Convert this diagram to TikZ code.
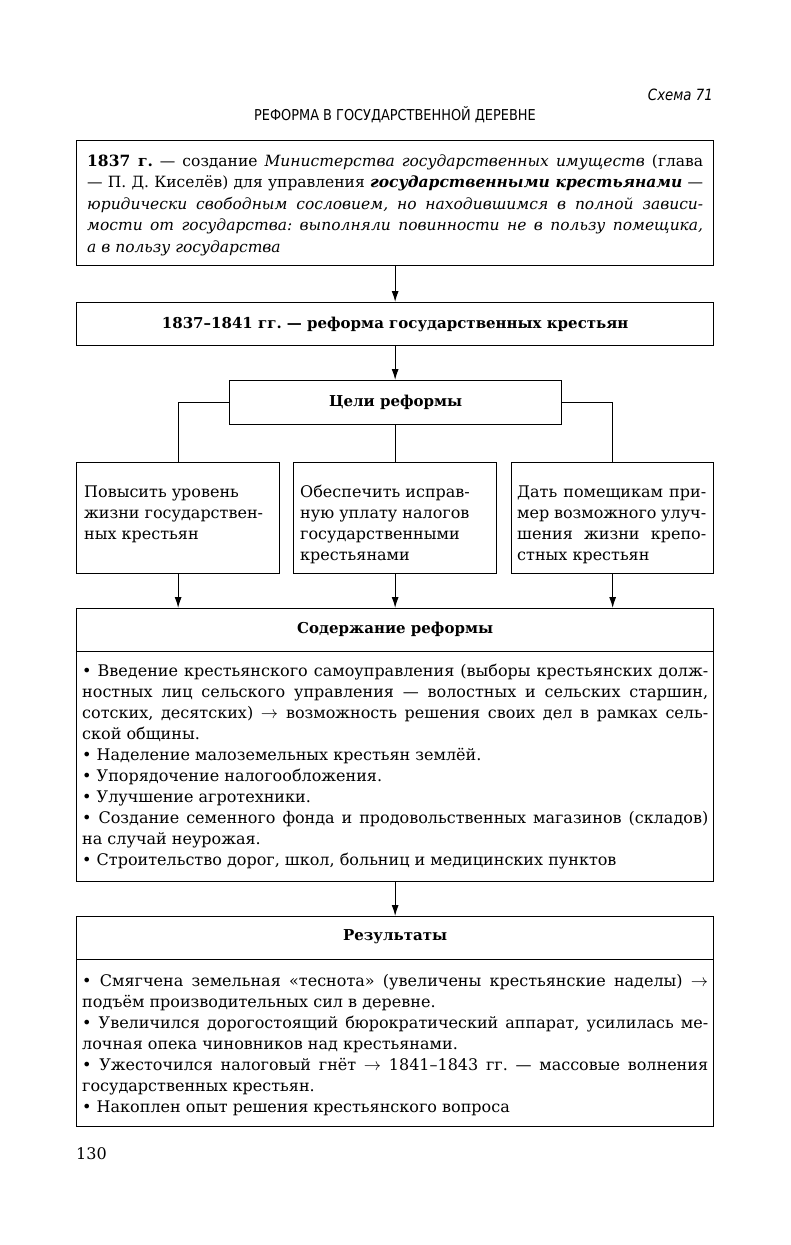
\documentclass[tikz,border=0pt]{standalone}
\usepackage{fontspec}
\setmainfont{DejaVu Serif}
\newfontfamily\condsans[FakeStretch=0.86]{DejaVu Sans}
\usetikzlibrary{arrows.meta}
\newdimen\lw
\newcommand\J[1]{\hbox to \lw{#1}}
\newcommand\Lf[1]{\hbox to \lw{#1\hfil}}
\frenchspacing
\begin{document}
\begin{tikzpicture}[x=1pt,y=-1pt,
  frame/.style={draw=black, line width=1.3pt, inner sep=0pt, anchor=north west},
  txt/.style={inner sep=0pt, anchor=base west, font=\fontsize{16}{21}\selectfont},
  head/.style={inner sep=0pt, font=\fontsize{15}{21}\selectfont\bfseries},
  conn/.style={line width=1.1pt},
  arr/.style={conn, -{Latex[length=11pt,width=7pt]}}]
\useasboundingbox[fill=white] (0,0) rectangle (791,1245);

% titles
\node[inner sep=0pt, anchor=east, font=\condsans\itshape\fontsize{15.5}{18}\selectfont] (scheme) at (713,95) {Схема 71};
\node[inner sep=0pt, font=\condsans\fontsize{15}{18}\selectfont] (title) at (395,115) {РЕФОРМА В ГОСУДАРСТВЕННОЙ ДЕРЕВНЕ};

% box 1
\node[frame, minimum width=637pt, minimum height=125pt] (b1) at (76,140) {};
\node[txt, font=\fontsize{15.5}{21.5}\selectfont] (t1) at (87,166) {\lw=616pt\vtop{%
\J{\textbf{1837 г.} — создание \textit{Министерства государственных имуществ} (глава}
\J{— П. Д. Киселёв) для управления \textbf{\textit{государственными крестьянами}} —}
\J{\textit{юридически свободным сословием, но находившимся в полной зависи-}}
\J{\textit{мости от государства: выполняли повинности не в пользу помещика,}}
\Lf{\textit{а в пользу государства}}}};

% box 2
\node[frame, minimum width=637pt, minimum height=43pt] (b2) at (76,302) {};
\node[head] (t2) at (b2.center) {1837–1841 гг. — реформа государственных крестьян};

% box 3
\node[frame, minimum width=332pt, minimum height=44pt] (b3) at (229,380) {};
\node[head] (t3) at (b3.center) {Цели реформы};

% goals
\node[frame, minimum width=203pt, minimum height=111pt] (ga) at (76,462) {};
\node[frame, minimum width=203pt, minimum height=111pt] (gb) at (293,462) {};
\node[frame, minimum width=202pt, minimum height=111pt] (gc) at (511,462) {};
\node[txt] (tga) at (84,497) {\lw=190pt\vtop{%
\Lf{Повысить уровень}
\Lf{жизни государствен-}
\Lf{ных крестьян}}};
\node[txt] (tgb) at (300,497) {\lw=190pt\vtop{%
\Lf{Обеспечить исправ-}
\Lf{ную уплату налогов}
\Lf{государственными}
\Lf{крестьянами}}};
\node[txt] (tgc) at (517,497) {\lw=189pt\vtop{%
\J{Дать помещикам при-}
\J{мер возможного улуч-}
\J{шения жизни крепо-}
\Lf{стных крестьян}}};

% content
\node[frame, minimum width=637pt, minimum height=43pt] (ch) at (76,608) {};
\node[frame, minimum width=637pt, minimum height=230pt] (cb) at (76,651) {};
\node[head] (tch) at ([yshift=1pt]ch.center) {Содержание реформы};
\node[txt] (tcb) at (82,676) {\lw=626pt\vtop{%
\J{• Введение крестьянского самоуправления (выборы крестьянских долж-}
\J{ностных лиц сельского управления — волостных и сельских старшин,}
\J{сотских, десятских) $\rightarrow$ возможность решения своих дел в рамках сель-}
\Lf{ской общины.}
\Lf{• Наделение малоземельных крестьян землёй.}
\Lf{• Упорядочение налогообложения.}
\Lf{• Улучшение агротехники.}
\J{• Создание семенного фонда и продовольственных магазинов (складов)}
\Lf{на случай неурожая.}
\Lf{• Строительство дорог, школ, больниц и медицинских пунктов}}};

% results
\node[frame, minimum width=637pt, minimum height=43pt] (rh) at (76,916) {};
\node[frame, minimum width=637pt, minimum height=167pt] (rb) at (76,959) {};
\node[head] (trh) at ([yshift=1pt]rh.center) {Результаты};
\node[txt] (trb) at (82,986) {\lw=626pt\vtop{%
\J{• Смягчена земельная «теснота» (увеличены крестьянские наделы) $\rightarrow$}
\Lf{подъём производительных сил в деревне.}
\J{• Увеличился дорогостоящий бюрократический аппарат, усилилась ме-}
\Lf{лочная опека чиновников над крестьянами.}
\J{• Ужесточился налоговый гнёт $\rightarrow$ 1841–1843 гг. — массовые волнения}
\Lf{государственных крестьян.}
\Lf{• Накоплен опыт решения крестьянского вопроса}}};

% page number
\node[inner sep=0pt, anchor=base west, font=\fontsize{16}{19}\selectfont] (page) at (76,1159) {130};

% connectors
\draw[arr] (b1.south) -- (b1.south |- b2.north);
\draw[arr] (b2.south) -- (b2.south |- b3.north);
\draw[conn] (b3.west) -| (ga.north);
\draw[conn] (b3.east) -| (gc.north);
\draw[conn] (b3.south) -- (b3.south |- gb.north);
\draw[arr] (ga.south) -- (ga.south |- ch.north);
\draw[arr] (gb.south) -- (gb.south |- ch.north);
\draw[arr] (gc.south) -- (gc.south |- ch.north);
\draw[arr] (cb.south) -- (cb.south |- rh.north);
\end{tikzpicture}
\end{document}
